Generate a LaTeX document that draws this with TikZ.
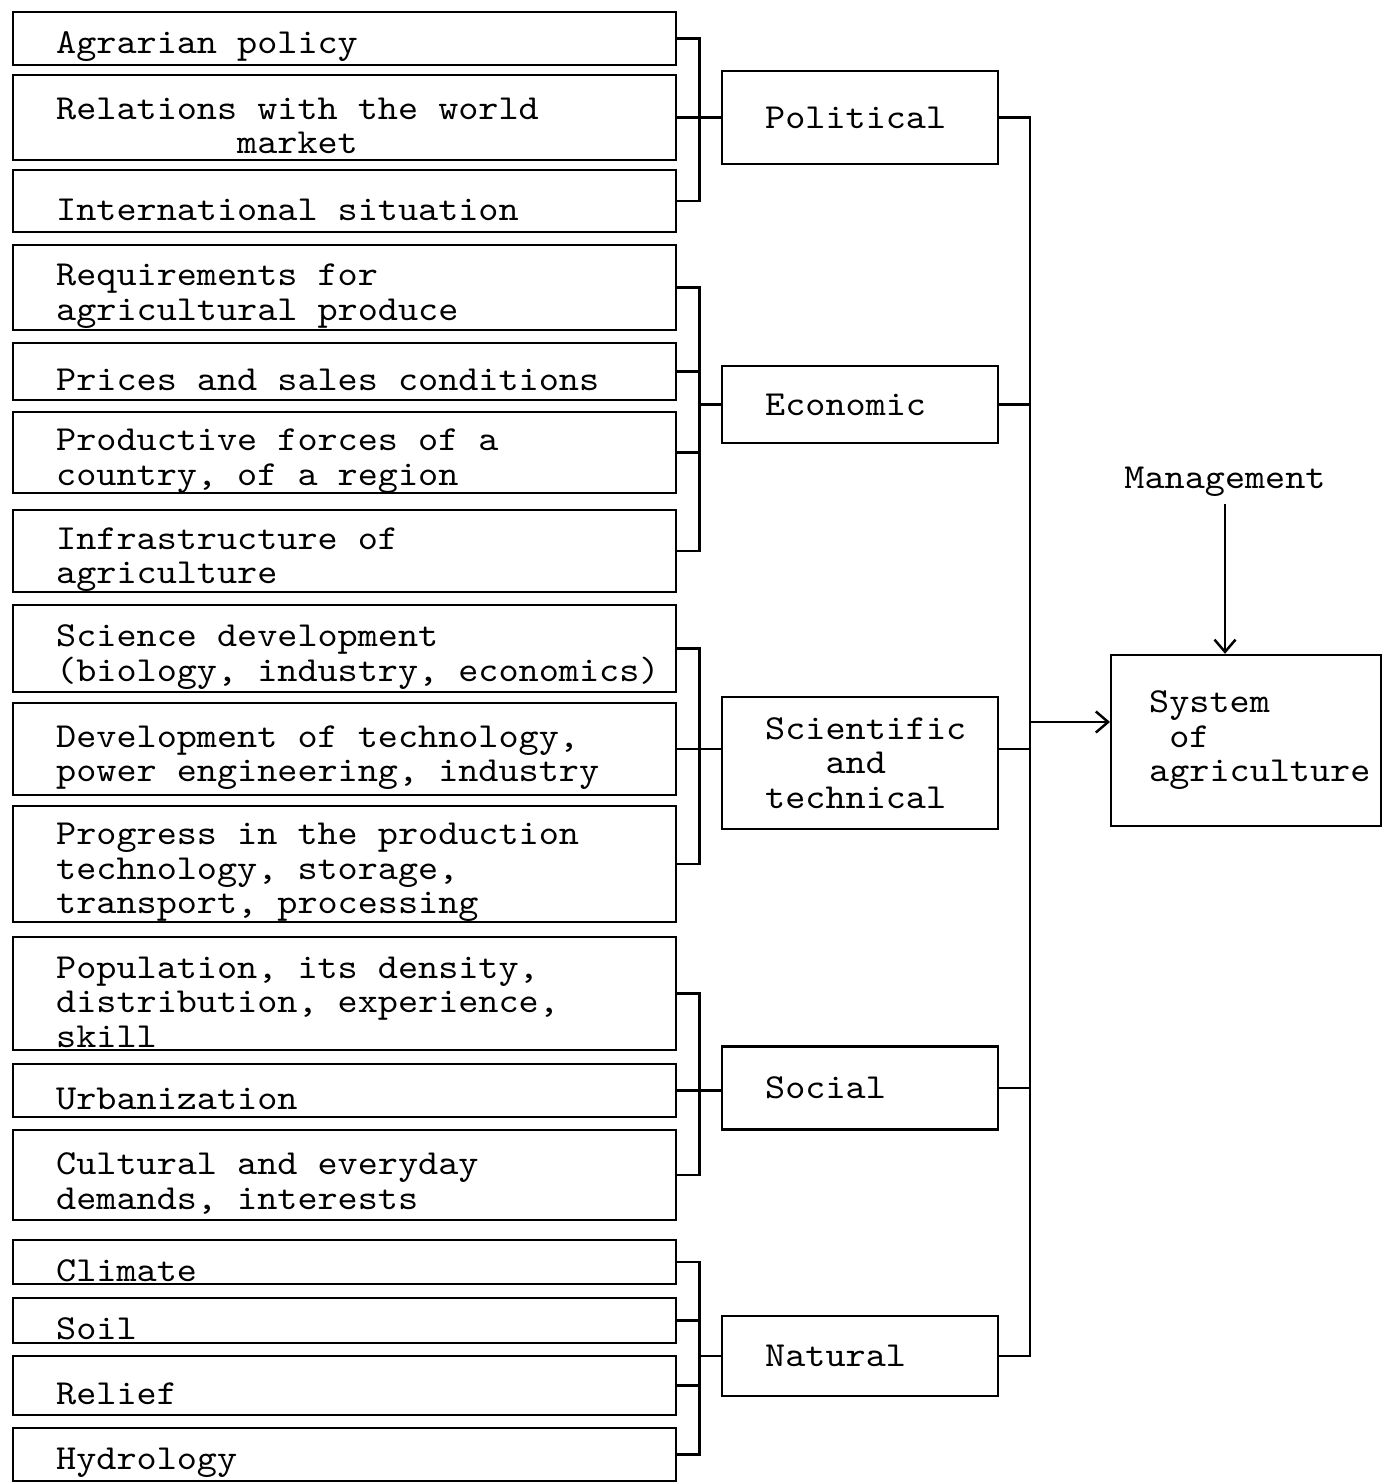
\documentclass[tikz,border=0pt]{standalone}
\usepackage{fontspec}
\usepackage{tikz}
\usetikzlibrary{arrows.meta}

\newfontfamily\twfont{lmmono10-regular}[Extension=.otf, FakeStretch=1.09]
\newcommand{\typew}{\twfont\fontsize{20pt}{19.6pt}\selectfont
  \fontdimen2\font=\fontcharwd\font`\x\relax
  \fontdimen3\font=0pt\fontdimen4\font=0pt\lineskiplimit=-100pt}

\tikzset{
  factor/.style={draw, anchor=west, text width=13.06cm, minimum height=#1,
    inner xsep=0.1cm, inner ysep=0pt, align=flush left,
    execute at begin node={\leftskip=0.76cm\rule{0pt}{22pt}}},
  group/.style={draw, anchor=west, text width=5.32cm, minimum height=#1,
    inner xsep=0.1cm, inner ysep=0pt, align=flush left,
    execute at begin node={\leftskip=0.76cm}},
}

\begin{document}
\begin{tikzpicture}[x=0.02cm, y=-0.02cm, line width=1.4pt, font=\typew,
    >={Straight Barb[length=7pt,width=12pt]}]
             \useasboundingbox (0,0) rectangle (1391,1484);

             % factors
             \node[factor=1.06cm] (agr) at (12,38.5) {Agrarian policy};
             \node[factor=1.7cm] (mkt) at (12,117.5) {Relations with the world\\\phantom{xxxxxxxxx}market};
             \node[factor=1.24cm] (intl) at (12,201) {International situation};

             \node[factor=1.7cm] (req) at (12,287.5) {Requirements for\\agricultural produce};
             \node[factor=1.14cm] (price) at (12,371.5) {Prices and sales conditions};
             \node[factor=1.58cm] (prod) at (12,452.5) {Productive forces of a\\country, of a region};
             \node[factor=1.64cm] (infra) at (12,551) {Infrastructure of\\agriculture};

             \node[factor=1.74cm] (scid) at (12,648.5) {Science development\\(biology, industry, economics)};
             \node[factor=1.84cm] (tech) at (12,749) {Development of technology,\\power engineering, industry};
             \node[factor=2.24cm] (prog) at (12,864) {Progress in the production\\technology, storage,\\transport, processing};

             \node[factor=2.26cm] (pop) at (12,993.5) {Population, its density,\\distribution, experience,\\skill};
             \node[factor=1.06cm] (urb) at (12,1090.5) {Urbanization};
             \node[factor=1.8cm] (cult) at (12,1175) {Cultural and everyday\\demands, interests};

             \node[factor=0.88cm] (clim) at (12,1262) {Climate};
             \node[factor=0.9cm] (soil) at (12,1320.5) {Soil};
             \node[factor=1.18cm] (relief) at (12,1385.5) {Relief};
             \node[factor=1.06cm] (hydro) at (12,1454.5) {Hydrology};

             % groups
             \node[group=1.86cm] (pol) at (721,117.5) {Political};
             \node[group=1.54cm] (eco) at (721,404.5) {Economic};
             \node[group=2.64cm] (sci) at (721,763) {Scientific\\\phantom{xxx}and\\technical};
             \node[group=1.66cm] (soc) at (721,1088) {Social};
             \node[group=1.6cm] (nat) at (721,1356) {Natural};

             \node[group=3.42cm, text width=5.2cm, execute at begin node={\leftskip=0.66cm}]
                  (sys) at (1110,740.5) {System\\\phantom{x}of\\agriculture};
             \node (mgmt) at (1225,482) {Management};

             % brackets
             \draw (agr.east) -- ++(22,0) coordinate (polb) |- (intl.east);
             \draw (mkt.east) -- (pol.west);

             \draw (req.east) -- ++(22,0) coordinate (ecob) |- (infra.east);
             \draw (price.east) -- (price.east -| ecob);
             \draw (prod.east) -- (prod.east -| ecob);
             \draw (eco.west) -- (eco.west -| ecob);

             \draw (scid.east) -- ++(22,0) coordinate (scib) |- (prog.east);
             \draw (tech.east) -- (tech.east -| sci.west);

             \draw (pop.east) -- ++(22,0) coordinate (socb) |- (cult.east);
             \draw (urb.east) -- (urb.east -| soc.west);

             \draw (clim.east) -- ++(22,0) coordinate (natb) |- (hydro.east);
             \draw (soil.east) -- (soil.east -| natb);
             \draw (relief.east) -- (relief.east -| natb);
             \draw (nat.west) -- (nat.west -| natb);

             % bus
             \coordinate (bus) at (1030,722);
             \draw (pol.east) -- (pol.east -| bus) -- (nat.east -| bus) -- (nat.east);
             \draw (eco.east) -- (eco.east -| bus);
             \draw (tech.east -| sci.east) -- (tech.east -| bus);
             \draw (soc.east) -- (soc.east -| bus);
             \draw[->] (bus) -- (bus -| sys.west);
             \draw[->] (mgmt.south) -- (mgmt.south |- sys.north);
\end{tikzpicture}
\end{document}
